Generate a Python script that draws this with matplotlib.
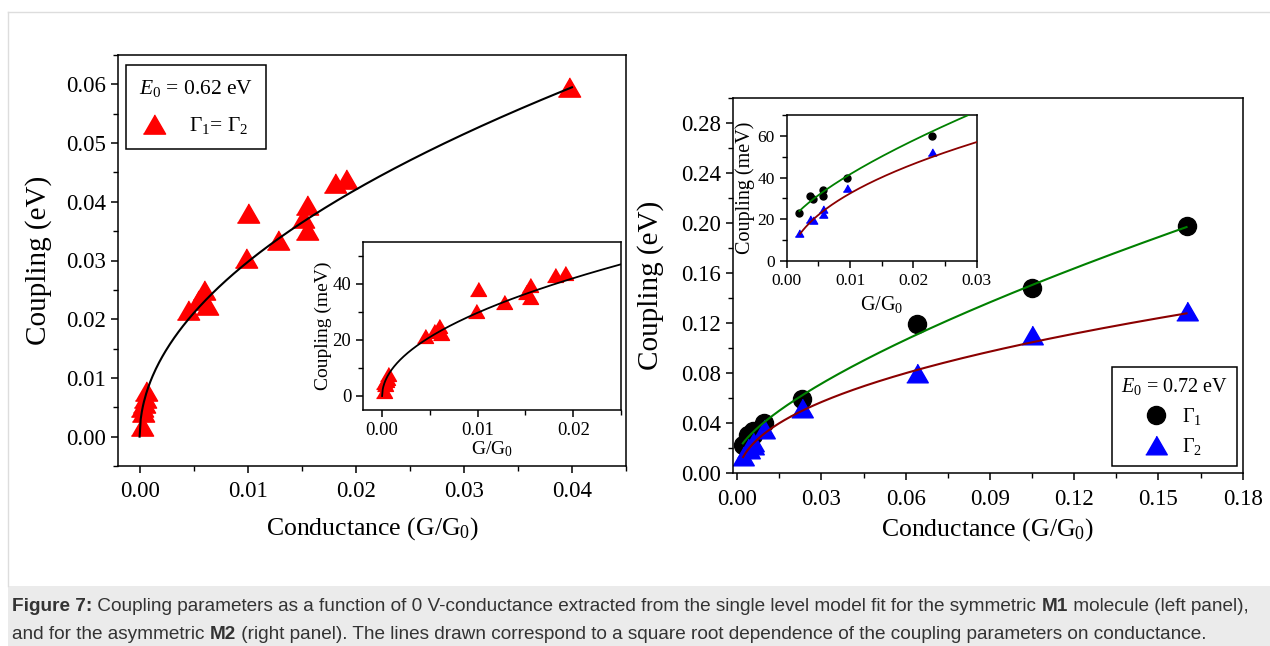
import matplotlib
matplotlib.use('Agg')
import matplotlib.pyplot as plt
import numpy as np
from matplotlib.ticker import MultipleLocator, FormatStrFormatter
from matplotlib.lines import Line2D
from matplotlib.patches import Rectangle

# ---------------- data ----------------
# Left panel: M1 (symmetric), Gamma1 = Gamma2 (eV) vs G/G0
m1_conductance = [0.0002, 0.0003, 0.0002, 0.0004, 0.0005, 0.0006,
                  0.0045, 0.0054, 0.0060, 0.0062, 0.0098, 0.0100,
                  0.0128, 0.0151, 0.0155, 0.0155, 0.0181, 0.0191, 0.0397]
m1_coupling = [0.0018, 0.0042, 0.0050, 0.0058, 0.0066, 0.0078,
               0.0215, 0.0232, 0.0250, 0.0224, 0.0304, 0.0381,
               0.0335, 0.0372, 0.0395, 0.0352, 0.0432, 0.0438, 0.0595]
m1_fit_coef = 0.2975          # Gamma = a * sqrt(G)
m1_fit_range = (0.0, 0.04)
m1_inset_fit_range = (0.0, 0.025)

# Right panel: M2 (asymmetric)
m2_conductance = [0.0020, 0.0037, 0.0041, 0.0057, 0.0058, 0.0095,
                  0.0229, 0.0640, 0.1051, 0.1600]
m2_gamma1 = [0.0228, 0.0310, 0.0298, 0.0339, 0.0310, 0.0399,
             0.0598, 0.1192, 0.1480, 0.1978]
m2_gamma2 = [0.0135, 0.0201, 0.0196, 0.0248, 0.0224, 0.0352,
             0.0525, 0.0800, 0.1106, 0.1298]
# fitted curves: Gamma = c * G**p + d
m2_fit1 = (0.6546, 0.70, 0.0155)
m2_fit2 = (0.3058, 0.45, -0.0061)
m2_fit_range1 = (0.0020, 0.16)
m2_fit_range2 = (0.0021, 0.16)

caption_parts = [("Figure 7:", 'bold'),
                 (" Coupling parameters as a function of 0 V-conductance extracted from the single level model fit for the symmetric ", 'normal'),
                 ("M1", 'bold'),
                 (" molecule (left panel),", 'normal')]
caption_parts2 = [("and for the asymmetric ", 'normal'), ("M2", 'bold'),
                  (" (right panel). The lines drawn correspond to a square root dependence of the coupling parameters on conductance.", 'normal')]

# ---------------- style ----------------
plt.rcParams.update({
    'font.family': ['Liberation Serif', 'DejaVu Serif'],
    'mathtext.fontset': 'custom',
    'mathtext.rm': 'Liberation Serif',
    'mathtext.it': 'Liberation Serif:italic',
    'mathtext.bf': 'Liberation Serif:bold',
    'axes.linewidth': 1.1,
    'xtick.direction': 'out', 'ytick.direction': 'out',
    'xtick.major.size': 5, 'ytick.major.size': 5,
    'xtick.minor.size': 3.5, 'ytick.minor.size': 3.5,
    'xtick.major.width': 1.1, 'ytick.major.width': 1.1,
    'xtick.minor.width': 1.0, 'ytick.minor.width': 1.0,
})

W, H = 1270, 646
fig = plt.figure(figsize=(W / 100, H / 100), dpi=100)

def rect(x0, y0, x1, y1):
    return [x0 / W, 1 - y1 / H, (x1 - x0) / W, (y1 - y0) / H]

tri = [(-1, -0.866), (1, -0.866), (0, 0.866)]

# background decorations
bg = fig.add_axes([0, 0, 1, 1])
bg.set_xlim(0, W); bg.set_ylim(H, 0); bg.axis('off')
bg.add_patch(Rectangle((8, 586), W - 8, H - 586, facecolor='#ebebeb', edgecolor='none'))
bg.plot([8, W], [12, 12], color='#dddddd', lw=1.0)
bg.plot([8, 8], [12, 586], color='#dddddd', lw=1.0)

def style_axes(ax, tick_fs, pad=3.5):
    ax.tick_params(which='both', labelsize=tick_fs, top=False, right=False)
    ax.tick_params(axis='x', which='major', pad=pad)

# ---------------- left main ----------------
axL = fig.add_axes(rect(118, 55, 626, 466))
axL.set_xlim(-0.002, 0.045)
axL.set_ylim(-0.005, 0.065)
axL.xaxis.set_major_locator(MultipleLocator(0.01))
axL.xaxis.set_minor_locator(MultipleLocator(0.005))
axL.yaxis.set_major_locator(MultipleLocator(0.01))
axL.yaxis.set_minor_locator(MultipleLocator(0.005))
axL.xaxis.set_major_formatter(FormatStrFormatter('%.2f'))
axL.yaxis.set_major_formatter(FormatStrFormatter('%.2f'))
style_axes(axL, 16.5, pad=5.5)
axL.plot(m1_conductance, m1_coupling, ls='none', marker=tri, ms=16,
         color='#ff0000', mec='#ff0000', zorder=2)
gfit = np.linspace(m1_fit_range[0], m1_fit_range[1], 400)
axL.plot(gfit, m1_fit_coef * np.sqrt(gfit), color='black', lw=1.5, zorder=3)
axL.set_xlabel('Conductance (G/G$_0$)', fontsize=18.5, labelpad=10)
axL.set_ylabel('Coupling (eV)', fontsize=21, labelpad=10)
legL = axL.legend(handles=[Line2D([], [], ls='none', marker=tri, ms=16, color='#ff0000')],
                  labels=['Γ$_1$= Γ$_2$'], title='$E_0$ = 0.62 eV',
                  loc='upper left', bbox_to_anchor=(0.0157, 0.9757), borderaxespad=0,
                  fancybox=False, edgecolor='black', framealpha=1, fontsize=15.5,
                  title_fontsize=15.5, handlelength=1.0, handletextpad=1.1,
                  borderpad=0.6, labelspacing=0.75)
legL.get_frame().set_linewidth(1.1)

# ---------------- left inset ----------------
axLi = fig.add_axes(rect(363, 242, 621, 410))
axLi.set_xlim(-0.002, 0.025)
axLi.set_ylim(-5, 55)
axLi.xaxis.set_major_locator(MultipleLocator(0.01))
axLi.xaxis.set_minor_locator(MultipleLocator(0.005))
axLi.yaxis.set_major_locator(MultipleLocator(20))
axLi.yaxis.set_minor_locator(MultipleLocator(10))
axLi.xaxis.set_major_formatter(FormatStrFormatter('%.2f'))
style_axes(axLi, 13.5)
axLi.plot(m1_conductance, np.array(m1_coupling) * 1000, ls='none', marker=tri, ms=11.5,
          color='#ff0000', mec='#ff0000', zorder=2)
gfit = np.linspace(m1_inset_fit_range[0], m1_inset_fit_range[1], 400)
axLi.plot(gfit, m1_fit_coef * np.sqrt(gfit) * 1000, color='black', lw=1.3, zorder=3)
axLi.set_xlabel('G/G$_0$', fontsize=14, labelpad=0)
axLi.set_ylabel('Coupling (meV)', fontsize=14, labelpad=0)

# ---------------- right main ----------------
axR = fig.add_axes(rect(732.7, 98.3, 1242.7, 473.3))
axR.set_xlim(-0.0016, 0.18)
axR.set_ylim(0, 0.30)
axR.xaxis.set_major_locator(MultipleLocator(0.03))
axR.xaxis.set_minor_locator(MultipleLocator(0.015))
axR.yaxis.set_major_locator(MultipleLocator(0.04))
axR.yaxis.set_minor_locator(MultipleLocator(0.02))
axR.xaxis.set_major_formatter(FormatStrFormatter('%.2f'))
axR.yaxis.set_major_formatter(FormatStrFormatter('%.2f'))
style_axes(axR, 16.5, pad=6)
axR.plot(m2_conductance, m2_gamma1, ls='none', marker='o', ms=13, color='black', zorder=2)
axR.plot(m2_conductance, m2_gamma2, ls='none', marker=tri, ms=15.5, color='#0000ff',
         mec='#0000ff', zorder=2)
g1 = np.linspace(*m2_fit_range1, 400)
g2 = np.linspace(*m2_fit_range2, 400)
c, p, d = m2_fit1
axR.plot(g1, c * g1 ** p + d, color='#008000', lw=1.5, zorder=3)
c, p, d = m2_fit2
axR.plot(g2, c * g2 ** p + d, color='#8b0000', lw=1.5, zorder=3)
axR.set_xlabel('Conductance (G/G$_0$)', fontsize=18.5, labelpad=5)
axR.set_ylabel('Coupling (eV)', fontsize=21, labelpad=12)
legR = axR.legend(handles=[Line2D([], [], ls='none', marker='o', ms=13, color='black'),
                           Line2D([], [], ls='none', marker=tri, ms=15.5, color='#0000ff')],
                  labels=['Γ$_1$', 'Γ$_2$'], title='$E_0$ = 0.72 eV',
                  loc='lower right', bbox_to_anchor=(0.988, 0.0195), borderaxespad=0,
                  fancybox=False, edgecolor='black', framealpha=1, fontsize=14.5,
                  title_fontsize=14.5, handlelength=1.0, handletextpad=0.8,
                  borderpad=0.45, labelspacing=0.45)
legR.get_frame().set_linewidth(1.1)

# ---------------- right inset ----------------
axRi = fig.add_axes(rect(786.7, 115, 976.7, 261))
axRi.set_xlim(0, 0.03)
axRi.set_ylim(0, 70)
axRi.xaxis.set_major_locator(MultipleLocator(0.01))
axRi.xaxis.set_minor_locator(MultipleLocator(0.005))
axRi.yaxis.set_major_locator(MultipleLocator(20))
axRi.yaxis.set_minor_locator(MultipleLocator(10))
axRi.xaxis.set_major_formatter(FormatStrFormatter('%.2f'))
style_axes(axRi, 12.5)
axRi.plot(m2_conductance, np.array(m2_gamma1) * 1000, ls='none', marker='o', ms=5,
          color='black', zorder=2)
axRi.plot(m2_conductance, np.array(m2_gamma2) * 1000, ls='none', marker=tri, ms=6,
          color='#0000ff', mec='#0000ff', zorder=2)
g1 = np.linspace(m2_fit_range1[0], 0.03, 300)
g2 = np.linspace(m2_fit_range2[0], 0.03, 300)
c, p, d = m2_fit1
axRi.plot(g1, (c * g1 ** p + d) * 1000, color='#008000', lw=1.3, zorder=3)
c, p, d = m2_fit2
axRi.plot(g2, (c * g2 ** p + d) * 1000, color='#8b0000', lw=1.3, zorder=3)
axRi.set_xlabel('G/G$_0$', fontsize=14.5, labelpad=4)
axRi.set_ylabel('Coupling (meV)', fontsize=14.5, labelpad=2)

# ---------------- caption ----------------
def write_line(parts, x, y):
    prev = None
    for txt, wt in parts:
        kw = dict(fontsize=13.7, family=['Liberation Sans', 'DejaVu Sans'],
                  weight=wt, color='#333333', va='bottom', ha='left')
        if prev is None:
            prev = bg.text(x, y, txt, **kw)
        else:
            prev = bg.annotate(txt, xy=(1, 0), xycoords=prev, **kw)

write_line(caption_parts, 12, 615)
write_line(caption_parts2, 12, 643)

fig.savefig('out.png', dpi=100)
